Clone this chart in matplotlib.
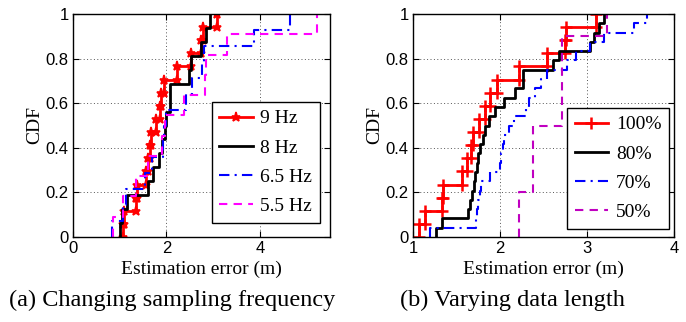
import numpy as np
import matplotlib
matplotlib.use('Agg')
import matplotlib.pyplot as plt

# 数据：每条曲线的误差样本 (m)
freq_labels = ['9 Hz', '8 Hz', '6.5 Hz', '5.5 Hz']
err_9hz = [1.07, 1.10, 1.35, 1.36, 1.57, 1.60, 1.64, 1.66, 1.77, 1.86, 1.88,
           1.95, 2.23, 2.52, 2.73, 2.78, 3.09]
err_8hz = [1.00, 1.05, 1.16, 1.60, 1.72, 1.84, 1.91, 1.96, 1.99, 2.07, 2.07,
           2.49, 2.52, 2.74, 2.85, 2.93]
err_6_5hz = [0.83, 1.08, 1.14, 1.55, 1.68, 1.92, 1.95, 2.00, 2.42, 2.55, 2.76,
             2.80, 3.88, 4.64]
err_5_5hz = [0.85, 1.08, 1.34, 1.60, 1.90, 1.97, 2.37, 2.82, 2.85, 3.30, 5.22]

len_labels = ['100%', '80%', '70%', '50%']
err_100 = [1.066, 1.14, 1.33, 1.34, 1.565, 1.62, 1.67, 1.69, 1.76, 1.83, 1.89,
           1.96, 2.22, 2.54, 2.75, 2.76, 3.10]
err_80 = [1.26, 1.33, 1.63, 1.65, 1.68, 1.70, 1.71, 1.73, 1.75, 1.77, 1.80,
          1.83, 1.87, 1.94, 2.05, 2.17, 2.26, 2.27, 2.61, 2.68, 3.03, 3.08,
          3.14, 3.19]
err_70 = [1.19, 1.72, 1.73, 1.75, 1.77, 1.78, 1.88, 2.00, 2.01, 2.03, 2.05,
          2.10, 2.16, 2.30, 2.33, 2.40, 2.47, 2.54, 2.77, 2.87, 3.03, 3.19,
          3.54, 3.69]
err_50 = [2.22, 2.22, 2.38, 2.38, 2.38, 2.71, 2.71, 2.71, 2.71, 3.23]

yticks = [0, 0.2, 0.4, 0.6, 0.8, 1]
ytick_labels = ['0', '0.2', '0.4', '0.6', '0.8', '1']

serif = ['Liberation Serif', 'DejaVu Serif']
sans = ['Liberation Sans', 'DejaVu Sans']


def cdf_xy(samples):
    s = np.sort(np.asarray(samples, dtype=float))
    n = len(s)
    x = np.repeat(s, 2)
    y = np.empty(2 * n)
    y[0::2] = np.arange(n) / n
    y[1::2] = np.arange(1, n + 1) / n
    return x, y


def style_axes(ax, xlim, xticks):
    ax.set_xlim(*xlim)
    ax.set_ylim(0, 1)
    ax.set_xticks(xticks)
    ax.set_xticklabels([str(t) for t in xticks], fontfamily=sans, fontsize=12)
    ax.set_yticks(yticks)
    ax.set_yticklabels(ytick_labels, fontfamily=sans, fontsize=12)
    ax.tick_params(direction='in', length=4, width=0.8, top=True, right=True, pad=3)
    ax.grid(True, linestyle=(0, (1, 2.5)), color='#555555', linewidth=0.7)
    for sp in ax.spines.values():
        sp.set_linewidth(1.0)
        sp.set_color('k')
    ax.set_xlabel('Estimation error (m)', fontfamily=serif, fontsize=14, labelpad=3)
    ax.set_ylabel('CDF', fontfamily=serif, fontsize=14, labelpad=2)


def add_legend(ax, anchor):
    leg = ax.legend(loc='lower right', bbox_to_anchor=anchor, borderaxespad=0,
                    prop={'family': serif, 'size': 14}, fancybox=False, edgecolor='k',
                    framealpha=1, handlelength=1.7, handletextpad=0.4,
                    labelspacing=0.6, borderpad=0.4)
    leg.get_frame().set_linewidth(1.0)


fig = plt.figure(figsize=(6.86, 3.22), dpi=100)
ax1 = fig.add_axes([73 / 686, 85 / 322, 257 / 686, 223 / 322])
ax2 = fig.add_axes([413 / 686, 85 / 322, 261 / 686, 223 / 322])

# (a) 采样频率
x, y = cdf_xy(err_9hz)
ax1.plot(x, y, color='r', lw=2, marker='*', ms=6.5, mew=1.2, label=freq_labels[0])
x, y = cdf_xy(err_8hz)
ax1.plot(x, y, color='k', lw=2, label=freq_labels[1])
x, y = cdf_xy(err_6_5hz)
ax1.plot(x, y, color='b', lw=1.5, linestyle=(0, (5, 2.5, 1, 2.5)), label=freq_labels[2])
x, y = cdf_xy(err_5_5hz)
ax1.plot(x, y, color='#ff00ff', lw=1.5, linestyle=(0, (4, 3)), label=freq_labels[3])
style_axes(ax1, (0, 5.5), [0, 2, 4])
add_legend(ax1, (0.961, 0.063))

# (b) 数据长度
x, y = cdf_xy(err_100)
ax2.plot(x, y, color='r', lw=2, marker='+', ms=9, mew=1.8, label=len_labels[0])
x, y = cdf_xy(err_80)
ax2.plot(x, y, color='k', lw=2, label=len_labels[1])
x, y = cdf_xy(err_70)
ax2.plot(x, y, color='b', lw=1.5, linestyle=(0, (5, 2.5, 1, 2.5)), label=len_labels[2])
x, y = cdf_xy(err_50)
ax2.plot(x, y, color='#c000c0', lw=1.5, linestyle=(0, (4, 3)), label=len_labels[3])
style_axes(ax2, (1, 4), [1, 2, 3, 4])
add_legend(ax2, (0.981, 0.036))

fig.text(172 / 686, 1 - 300 / 322, '(a) Changing sampling frequency', ha='center',
         va='center', fontfamily=serif, fontsize=17.5)
fig.text(512 / 686, 1 - 300 / 322, '(b) Varying data length', ha='center',
         va='center', fontfamily=serif, fontsize=17.5)

fig.savefig('out.png', dpi=100)
